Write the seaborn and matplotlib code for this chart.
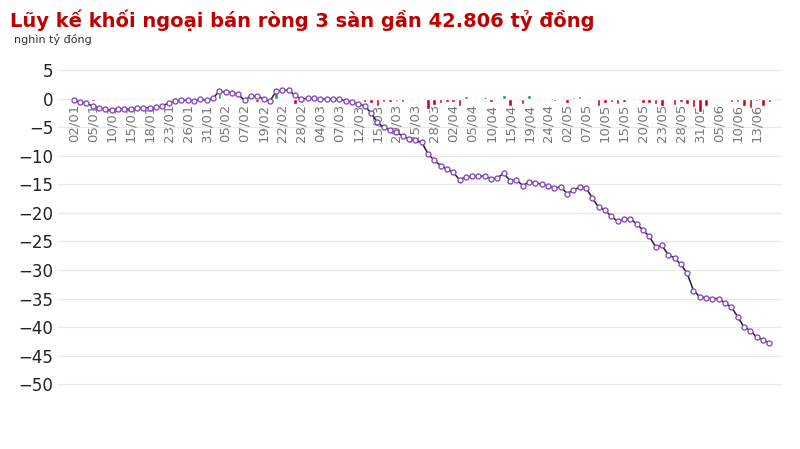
import numpy as np
import pandas as pd
import matplotlib.pyplot as plt
import seaborn as sns

# cumulative net sell (nghin ty dong), one point per session
cumulative = [
    -0.3, -0.6, -0.8, -1.3, -1.6, -1.8, -2.0, -1.8, -1.8, -1.8,
    -1.7, -1.6, -1.6, -1.5, -1.3, -0.7, -0.4, -0.3, -0.2, -0.4,
    0.0, -0.3, 0.1, 1.3, 1.2, 1.0, 0.8, -0.3, 0.5, 0.4,
    0.0, -0.4, 1.3, 1.5, 1.5, 0.6, -0.1, 0.1, 0.1, -0.1,
    0.0, 0.0, -0.1, -0.4, -0.6, -1.0, -1.2, -2.5, -4.1, -5.0,
    -5.5, -5.9, -6.5, -7.0, -7.3, -7.6, -9.6, -10.8, -11.7, -12.3,
    -12.9, -14.2, -13.7, -13.6, -13.6, -13.5, -14.0, -13.9, -13.0, -14.4,
    -14.2, -15.2, -14.6, -14.7, -15.0, -15.2, -15.7, -15.4, -16.6, -16.0,
    -15.5, -15.6, -17.4, -19.0, -19.5, -20.6, -21.5, -21.0, -21.0, -21.9,
    -23.0, -24.1, -25.9, -25.7, -27.3, -27.9, -29.0, -30.6, -33.6, -34.7,
    -34.9, -35.0, -35.0, -35.8, -36.5, -38.2, -40.0, -40.6, -41.8, -42.2,
    -42.8,
]
# daily net value
daily = [
    -0.1, -0.1, -0.2, -0.4, -0.1, -0.2, -0.1, 0.1, -0.1, -0.1,
    0.1, 0.1, -0.1, 0.1, 0.1, 0.1, 0.3, 0.1, 0.1, -0.1,
    0.2, -0.1, 0.4, 1.0, 0.1, -0.1, -0.1, -0.3, 0.1, -0.5,
    -0.1, -0.2, 1.2, 0.2, 0.1, -1.0, -0.8, 0.1, 0.1, -0.1,
    0.1, 0.0, -0.6, -0.1, -0.1, -0.3, -0.6, -0.8, -1.2, -0.6,
    -0.5, -0.4, -0.6, -0.3, -0.3, -0.3, -1.8, -1.1, -0.8, -0.5,
    -0.6, -1.2, 0.5, 0.1, 0.0, 0.3, -0.5, 0.1, 0.6, -1.3,
    0.1, -0.9, 0.6, -0.1, -0.3, -0.3, -0.4, 0.1, -0.8, 0.3,
    0.5, 0.2, -0.2, -1.2, -0.8, -0.5, -0.9, -0.6, 0.2, -0.1,
    -0.8, -0.7, -0.9, -1.2, 0.1, -1.1, -0.6, -0.9, -1.4, -2.3,
    -1.2, -0.2, -0.1, 0.0, -0.6, -0.5, -1.3, -1.6, -0.4, -1.2,
    -0.5,
]
tick_labels = [
    "02/01", "05/01", "10/01", "15/01", "18/01", "23/01", "26/01", "31/01",
    "05/02", "07/02", "19/02", "22/02", "28/02", "04/03", "07/03", "12/03",
    "15/03", "20/03", "25/03", "28/03", "02/04", "05/04", "10/04", "15/04",
    "19/04", "24/04", "02/05", "07/05", "10/05", "15/05", "20/05", "23/05",
    "28/05", "31/05", "05/06", "10/06", "13/06",
]

n = min(len(cumulative), len(daily))
df = pd.DataFrame({"idx": np.arange(n), "cum": cumulative[:n], "day": daily[:n]})
bar_colors = np.where(df["day"] >= 0, "#1aa64b", "#d0021b")

sns.set_style("white")
fig = plt.figure(figsize=(8, 4.49), dpi=100)
ax = fig.add_axes([0.0725, 0.119, 0.905, 0.75])

ax.bar(df["idx"], df["day"], color=bar_colors, width=0.55, zorder=2)
sns.lineplot(data=df, x="idx", y="cum", color="#222222", lw=1.1, ax=ax,
             marker="o", markersize=3.6, markerfacecolor="white",
             markeredgecolor="#8a4fc1", markeredgewidth=1.0, zorder=3)

ax.set_xlim(-2.5, n + 1)
ax.set_ylim(-52, 7)
ax.set_yticks(range(-50, 6, 5))
ax.tick_params(axis="y", labelsize=12, length=0, colors="#222222")
ax.set_xticks([])
ax.set_xlabel("")
ax.set_ylabel("")
ax.yaxis.grid(True, color="#e8e8e8", lw=0.8)
ax.set_axisbelow(True)
for s in ax.spines.values():
    s.set_visible(False)

for k, lab in enumerate(tick_labels):
    ax.text(3 * k, -0.9, lab, rotation=90, ha="center", va="top",
            fontsize=9.5, color="#777777", zorder=1)

fig.text(0.012, 0.955, "Lũy kế khối ngoại bán ròng 3 sàn gần 42.806 tỷ đồng",
         color="#c00000", fontsize=14, fontweight="bold", va="center")
fig.text(0.018, 0.913, "nghìn tỷ đồng", color="#333333", fontsize=8, va="center")

fig.savefig("out.png", dpi=100)
